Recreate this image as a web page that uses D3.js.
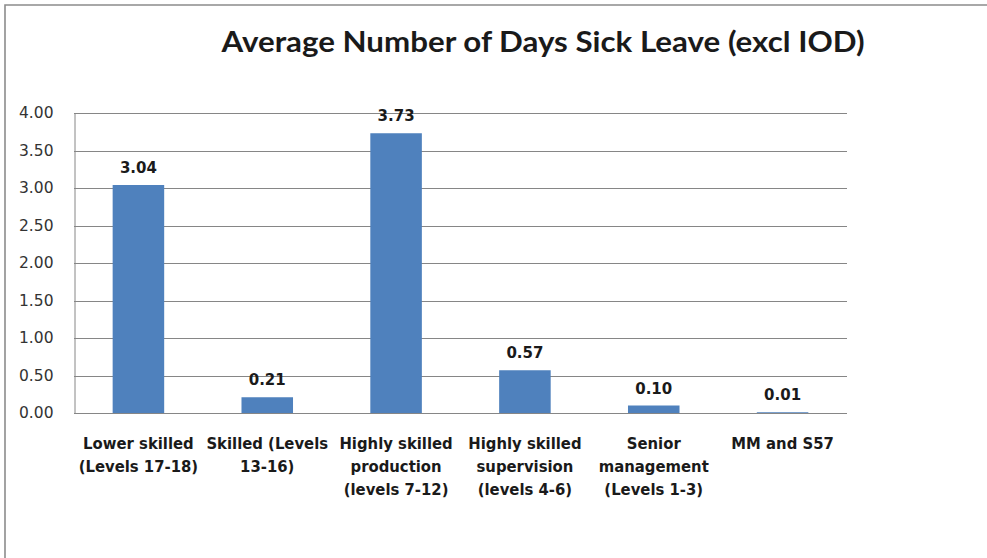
<!DOCTYPE html>
<html>
<head>
<meta charset="utf-8">
<script src="https://cdn.jsdelivr.net/npm/d3@7"></script>
<style>
  html, body { margin: 0; padding: 0; background: #fff; }
  svg { display: block; }
</style>
</head>
<body>
<svg id="chart" width="987" height="558"></svg>
<script>
// Average sick leave days per staff group (excluding injury on duty)
const categories = [
  ["Lower skilled", "(Levels 17-18)"],
  ["Skilled (Levels", "13-16)"],
  ["Highly skilled", "production", "(levels 7-12)"],
  ["Highly skilled", "supervision", "(levels 4-6)"],
  ["Senior", "management", "(Levels 1-3)"],
  ["MM and S57"]
];
const values = [3.04, 0.21, 3.73, 0.57, 0.10, 0.01];
const yTicks = [0, 0.5, 1, 1.5, 2, 2.5, 3, 3.5, 4];
const titleText = "Average Number of Days Sick Leave (excl IOD)";

const svg = d3.select("#chart");
const W = 987, H = 558;
const plot = { left: 74, right: 847, top: 113, bottom: 413 };

// outer frame: top and left edges only
svg.append("path")
  .attr("d", `M5,${H} L5,5 L${W},5`)
  .attr("fill", "none")
  .attr("stroke", "#8c8c8c")
  .attr("stroke-width", 1.6);

const x = d3.scaleBand()
  .domain(d3.range(categories.length))
  .range([plot.left, plot.right])
  .paddingInner(0.6)
  .paddingOuter(0.3);

const y = d3.scaleLinear()
  .domain([0, 4])
  .range([plot.bottom, plot.top]);

// horizontal gridlines
svg.append("g")
  .selectAll("line")
  .data(yTicks)
  .join("line")
  .attr("x1", plot.left)
  .attr("x2", plot.right)
  .attr("y1", d => Math.round(y(d)) + 0.5)
  .attr("y2", d => Math.round(y(d)) + 0.5)
  .attr("stroke", "#868686")
  .attr("stroke-width", 1);

// value axis
const yAxis = svg.append("g")
  .attr("transform", `translate(${plot.left + 0.5},0)`)
  .call(d3.axisLeft(y).tickValues(yTicks).tickFormat(d3.format(".2f")).tickSize(0).tickPadding(21));
yAxis.select(".domain").attr("stroke", "#868686");
yAxis.selectAll("text")
  .attr("font-family", "'DejaVu Sans', Verdana, sans-serif")
  .attr("font-size", 15.5)
  .attr("fill", "#333333");

// bars
svg.append("g")
  .selectAll("rect")
  .data(values)
  .join("rect")
  .attr("x", (d, i) => x(i))
  .attr("width", x.bandwidth())
  .attr("y", d => y(d))
  .attr("height", d => y(0) - y(d))
  .attr("fill", "#4F81BD");

// value labels
svg.append("g")
  .selectAll("text")
  .data(values)
  .join("text")
  .attr("x", (d, i) => x(i) + x.bandwidth() / 2)
  .attr("y", d => y(d) - 12)
  .attr("text-anchor", "middle")
  .attr("font-family", "'DejaVu Sans', Verdana, sans-serif")
  .attr("font-weight", "bold")
  .attr("font-size", 15)
  .attr("fill", "#1a1a1a")
  .text(d => d3.format(".2f")(d));

// category labels
const catG = svg.append("g");
categories.forEach((lines, i) => {
  const t = catG.append("text")
    .attr("x", x(i) + x.bandwidth() / 2)
    .attr("y", 449)
    .attr("text-anchor", "middle")
    .attr("font-family", "'DejaVu Sans Condensed', 'DejaVu Sans', sans-serif")
    .attr("font-weight", "bold")
    .attr("font-size", 16.5)
    .attr("fill", "#1a1a1a");
  lines.forEach((ln, j) => {
    t.append("tspan")
      .attr("x", x(i) + x.bandwidth() / 2)
      .attr("dy", j === 0 ? 0 : 23)
      .text(ln);
  });
});

// title
svg.append("text")
  .attr("x", 543)
  .attr("y", 52)
  .attr("text-anchor", "middle")
  .attr("font-family", "Lato, 'Open Sans', sans-serif")
  .attr("font-weight", "bold")
  .attr("font-size", 28)
  .attr("fill", "#1a1a1a")
  .attr("textLength", 643)
  .attr("lengthAdjust", "spacingAndGlyphs")
  .text(titleText);
</script>
</body>
</html>
